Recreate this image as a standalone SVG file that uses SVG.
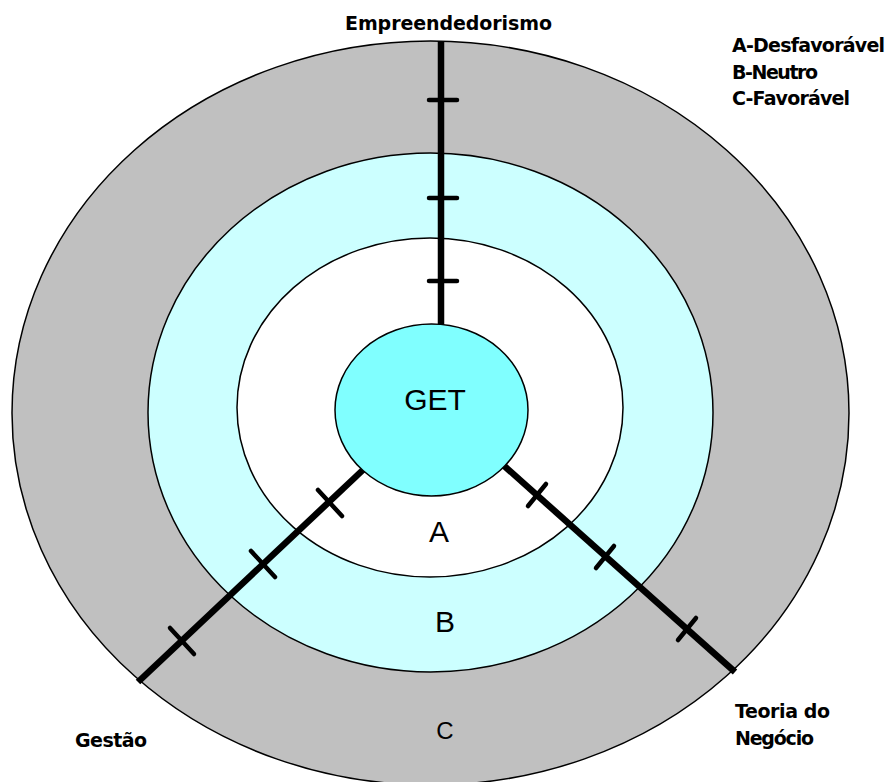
<svg xmlns="http://www.w3.org/2000/svg" width="888" height="782" viewBox="0 0 888 782">
  <style>
    .ring { stroke: #000; stroke-width: 1.5; }
    .axis { stroke: #000; stroke-width: 6.5; fill: none; stroke-linecap: butt; }
    .tick { stroke: #000; stroke-width: 4.5; fill: none; stroke-linecap: round; }
    .lbl { font-family: "DejaVu Sans", "Liberation Sans", sans-serif; font-weight: bold; font-size: 19px; fill: #000; }
    .zone { font-family: "Liberation Sans", Arial, sans-serif; fill: #000; }
  </style>

  <rect x="0" y="0" width="888" height="782" fill="#fff"/>

  <!-- zone rings, outer to inner -->
  <g id="ring-c">
    <ellipse class="ring" cx="430.5" cy="413" rx="418.5" ry="372" fill="#c0c0c0"/>
  </g>
  <g id="ring-b">
    <ellipse class="ring" cx="430.5" cy="412.5" rx="282.5" ry="259.5" fill="#ccffff"/>
  </g>
  <g id="ring-a">
    <ellipse class="ring" cx="430" cy="407.5" rx="193" ry="169.5" fill="#fff"/>
  </g>

  <!-- axes with scale ticks -->
  <g id="connectors">
    <line class="axis" x1="441" y1="41" x2="441" y2="326"/>
    <line class="tick" x1="429" y1="100" x2="457" y2="100"/>
    <line class="tick" x1="429" y1="198" x2="457" y2="198"/>
    <line class="tick" x1="429" y1="281" x2="457" y2="281"/>

    <line class="axis" x1="365" y1="468" x2="138" y2="682"/>
    <line class="tick" x1="318" y1="490" x2="342" y2="516"/>
    <line class="tick" x1="251" y1="551" x2="275" y2="577"/>
    <line class="tick" x1="170" y1="628" x2="194" y2="654"/>

    <line class="axis" x1="501" y1="463" x2="735" y2="672"/>
    <line class="tick" x1="546" y1="484" x2="528" y2="506"/>
    <line class="tick" x1="614" y1="546" x2="596" y2="568"/>
    <line class="tick" x1="696" y1="618" x2="678" y2="640"/>
  </g>

  <g id="get">
    <ellipse class="ring" cx="431.5" cy="410" rx="96.5" ry="86" fill="#80ffff"/>
    <text class="zone" x="435" y="410" font-size="30" text-anchor="middle">GET</text>
  </g>

  <!-- zone letters -->
  <g id="zone-labels">
    <text class="zone" x="439" y="542" font-size="30" text-anchor="middle">A</text>
    <text class="zone" x="445" y="632" font-size="30" text-anchor="middle">B</text>
    <text class="zone" x="445" y="739" font-size="24" text-anchor="middle">C</text>
  </g>

  <!-- axis names -->
  <g id="label-empreendedorismo">
    <text class="lbl" x="345" y="30" textLength="207">Empreendedorismo</text>
  </g>
  <g id="label-gestao">
    <text class="lbl" x="75" y="747" textLength="72">Gestão</text>
  </g>
  <g id="label-teoria">
    <text class="lbl" x="735" y="718" textLength="95">Teoria do</text>
    <text class="lbl" x="735" y="745" textLength="79">Negócio</text>
  </g>

  <!-- legend -->
  <g id="legend">
    <text class="lbl" x="732" y="52" textLength="153">A-Desfavorável</text>
    <text class="lbl" x="732" y="79" textLength="86">B-Neutro</text>
    <text class="lbl" x="732" y="105" textLength="118">C-Favorável</text>
  </g>
</svg>
